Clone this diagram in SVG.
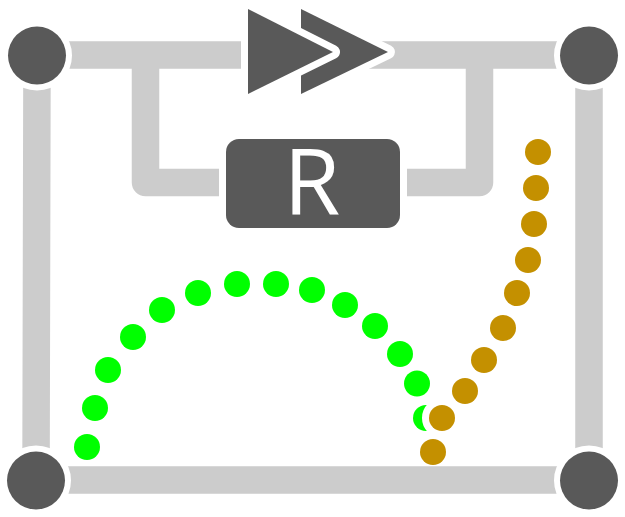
<svg xmlns="http://www.w3.org/2000/svg" width="625" height="517" viewBox="0 0 625 517">
<style>
.wire{fill:none;stroke:#ccc;stroke-width:27.5;stroke-linejoin:round}
.dark{fill:#595959;stroke:#fff;stroke-width:12;paint-order:stroke}
.tri{fill:#595959;stroke:#fff;stroke-width:14;stroke-linejoin:round;paint-order:stroke}
.g{fill:#0f0}
.o{fill:#c49000;stroke:#fff;stroke-width:14;paint-order:stroke}
</style>
<rect width="625" height="517" fill="#fff"/>
<g id="green-dots">
<circle class="g" cx="87" cy="447" r="13"/><circle class="g" cx="95" cy="408" r="13"/><circle class="g" cx="108" cy="370" r="13"/><circle class="g" cx="133" cy="337" r="13"/><circle class="g" cx="162" cy="310" r="13"/><circle class="g" cx="198" cy="293" r="13"/><circle class="g" cx="237" cy="284" r="13"/><circle class="g" cx="276" cy="284" r="13"/><circle class="g" cx="312" cy="290" r="13"/><circle class="g" cx="345" cy="305" r="13"/><circle class="g" cx="375" cy="326" r="13"/><circle class="g" cx="400" cy="354" r="13"/><circle class="g" cx="417" cy="383.5" r="13"/><circle class="g" cx="426" cy="418" r="13"/>
</g>
<g id="gold-dots">
<circle class="o" cx="433" cy="452" r="13"/><circle class="o" cx="442" cy="418" r="13"/><circle class="o" cx="465" cy="391" r="13"/><circle class="o" cx="484" cy="360" r="13"/><circle class="o" cx="503" cy="328" r="13"/><circle class="o" cx="517" cy="293" r="13"/><circle class="o" cx="528" cy="260" r="13"/><circle class="o" cx="534" cy="224" r="13"/><circle class="o" cx="536" cy="188" r="13"/><circle class="o" cx="538" cy="152" r="13"/>
</g>
<g id="connectors">
<path class="wire" d="M37 55H589V480H36L37 55"/>
<path class="wire" d="M145.500 55V182.500H313H479.500V55"/>
</g>
<g id="node-tl"><circle class="dark" cx="37" cy="55.500" r="29"/></g>
<g id="node-tr"><circle class="dark" cx="589" cy="55.500" r="29"/></g>
<g id="node-bl"><circle class="dark" cx="36" cy="480.500" r="29"/></g>
<g id="node-br"><circle class="dark" cx="589" cy="480.500" r="29"/></g>
<g id="amplifier">
<polygon class="tri" points="301,9 388,52 301,94"/>
<polygon class="tri" points="248,9 333,52 248,94"/>
</g>
<g id="resistor">
<rect x="226" y="139" width="174" height="89" rx="13" fill="#595959" stroke="#fff" stroke-width="14" paint-order="stroke"/>
<text x="312" y="214" text-anchor="middle" font-family="Open Sans, sans-serif" font-size="92" fill="#fff">R</text>
</g>
</svg>
